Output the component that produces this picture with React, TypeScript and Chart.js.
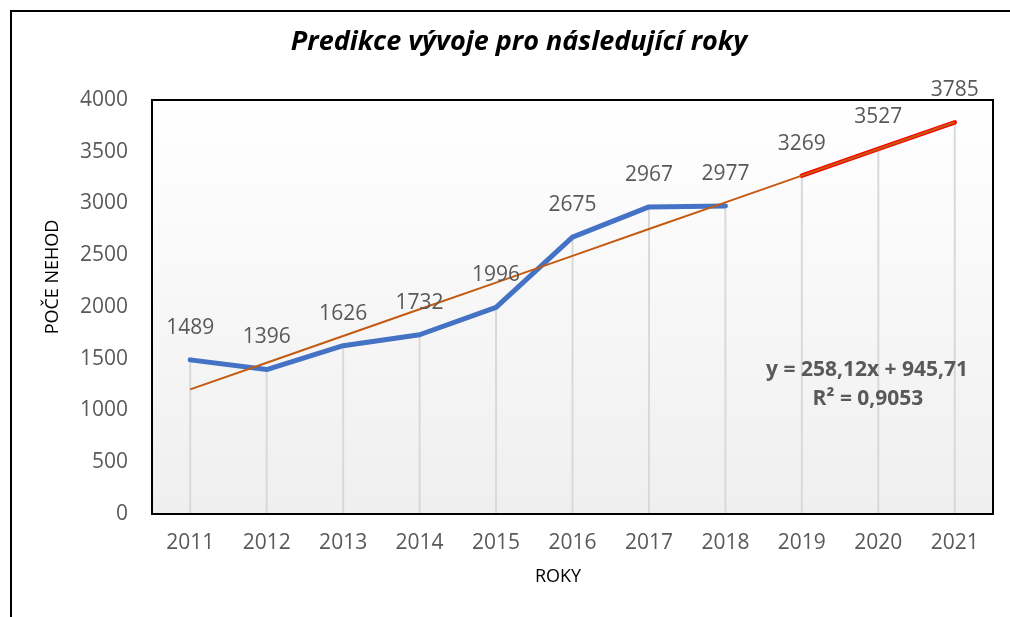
import React, { useEffect, useRef } from "react";
import { Chart, registerables } from "chart.js";

Chart.register(...registerables);

const chartTitle = "Predikce vývoje pro následující roky";
const yAxisTitle = "POČE NEHOD";
const xAxisTitle = "ROKY";
const equationLines = ["y = 258,12x + 945,71", "R² = 0,9053"];

const years = ["2011", "2012", "2013", "2014", "2015", "2016", "2017", "2018", "2019", "2020", "2021"];
const actualAccidents = [1489, 1396, 1626, 1732, 1996, 2675, 2967, 2977, null, null, null];
const predictedAccidents = [null, null, null, null, null, null, null, null, 3269, 3527, 3785];
const trendValues = [1204, 1462, 1720, 1978, 2236, 2494, 2753, 3011, 3269, 3527, 3785];
const yMin = 0;
const yMax = 4000;
const yStep = 500;

const FONT = "'Open Sans', sans-serif";
const GRAY = "#595959";

const decorPlugin = {
  id: "decor",
  beforeDatasetsDraw(chart: any) {
    const { ctx, chartArea } = chart;
    ctx.save();
    const g = ctx.createLinearGradient(0, chartArea.top, 0, chartArea.bottom);
    g.addColorStop(0, "#ffffff");
    g.addColorStop(1, "#efefef");
    ctx.fillStyle = g;
    ctx.fillRect(chartArea.left, chartArea.top, chartArea.right - chartArea.left, chartArea.bottom - chartArea.top);
    ctx.strokeStyle = "#d9d9d9";
    ctx.lineWidth = 2;
    chart.data.datasets.forEach((ds: any, i: number) => {
      if (!ds.showLabels) return;
      const meta = chart.getDatasetMeta(i);
      meta.data.forEach((pt: any, j: number) => {
        if (ds.data[j] == null) return;
        ctx.beginPath();
        ctx.moveTo(pt.x, pt.y);
        ctx.lineTo(pt.x, chartArea.bottom);
        ctx.stroke();
      });
    });
    ctx.restore();
  },
  afterDraw(chart: any) {
    const { ctx, chartArea } = chart;
    ctx.save();
    ctx.strokeStyle = "#000";
    ctx.lineWidth = 2;
    ctx.strokeRect(chartArea.left, chartArea.top, chartArea.right - chartArea.left, chartArea.bottom - chartArea.top);
    ctx.fillStyle = GRAY;
    ctx.font = `21px ${FONT}`;
    ctx.textAlign = "center";
    ctx.textBaseline = "middle";
    chart.data.datasets.forEach((ds: any, i: number) => {
      if (!ds.showLabels) return;
      const meta = chart.getDatasetMeta(i);
      meta.data.forEach((pt: any, j: number) => {
        if (ds.data[j] == null) return;
        ctx.fillText(String(ds.data[j]), pt.x, pt.y - 32);
      });
    });
    ctx.fillStyle = "#000";
    ctx.font = `italic bold 27px ${FONT}`;
    ctx.fillText(chartTitle, 519, 42);
    ctx.font = `18px ${FONT}`;
    ctx.fillText(xAxisTitle, 558, 577);
    ctx.save();
    ctx.translate(53, 277);
    ctx.rotate(-Math.PI / 2);
    ctx.fillText(yAxisTitle, 0, 0);
    ctx.restore();
    ctx.fillStyle = GRAY;
    ctx.font = `bold 21px ${FONT}`;
    ctx.fillText(equationLines[0], 867, 370);
    ctx.fillText(equationLines[1], 868, 399);
    ctx.restore();
  },
};

export default function App() {
  const ref = useRef<HTMLCanvasElement>(null);
  useEffect(() => {
    if (!ref.current) return;
    const chart = new Chart(ref.current, {
      type: "line",
      data: {
        labels: years,
        datasets: [
          {
            label: "Počet nehod",
            data: actualAccidents,
            borderColor: "#4472c4",
            borderWidth: 5,
            borderCapStyle: "round",
            borderJoinStyle: "round",
            pointRadius: 0,
            fill: false,
            tension: 0,
            order: 2,
            showLabels: true,
          } as any,
          {
            label: "Predikce",
            data: predictedAccidents,
            borderColor: "#ff0000",
            borderWidth: 4.5,
            borderCapStyle: "round",
            pointRadius: 0,
            fill: false,
            order: 1,
            showLabels: true,
          } as any,
          {
            label: "Trend",
            data: trendValues,
            borderColor: "#c55a11",
            borderWidth: 2,
            pointRadius: 0,
            fill: false,
            order: 0,
          } as any,
        ],
      },
      options: {
        animation: false,
        responsive: false,
        layout: { padding: { left: 0, right: 17, top: 100, bottom: 0 } },
        plugins: { legend: { display: false }, title: { display: false }, tooltip: { enabled: false } },
        scales: {
          x: {
            offset: true,
            grid: { display: false, drawTicks: false },
            border: { display: false },
            ticks: { color: GRAY, font: { family: FONT, size: 21 }, padding: 16, maxRotation: 0, autoSkip: false },
            afterFit: (s: any) => { s.height = 103; },
          },
          y: {
            min: yMin,
            max: yMax,
            grid: { display: false, drawTicks: false },
            border: { display: false },
            ticks: {
              stepSize: yStep,
              color: GRAY,
              font: { family: FONT, size: 21 },
              padding: 24,
              callback: (v: any) => String(v),
            },
            afterFit: (s: any) => { s.width = 152; },
          },
        },
      },
      plugins: [decorPlugin],
    });
    return () => chart.destroy();
  }, []);
  return (
    <div style={{ position: "fixed", left: 0, top: 0, width: 1010, height: 617, overflow: "hidden", background: "#fff" }}>
      <div style={{ position: "absolute", left: 10, top: 10, width: 1100, height: 700, border: "2px solid #000" }} />
      <canvas ref={ref} width={1010} height={617} style={{ position: "absolute", left: 0, top: 0, width: 1010, height: 617 }} />
    </div>
  );
}
